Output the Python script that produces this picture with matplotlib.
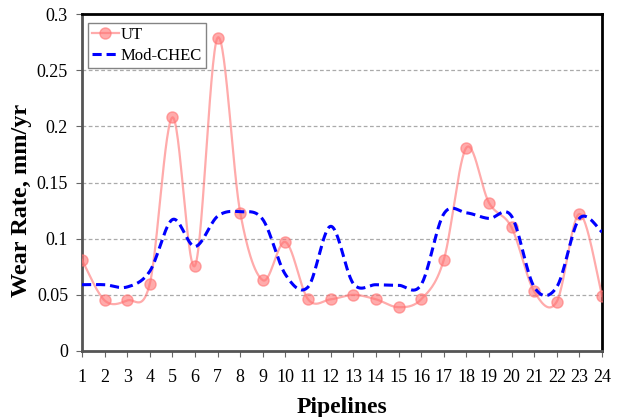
import numpy as np
import matplotlib
matplotlib.use("Agg")
import matplotlib.pyplot as plt

pipelines = list(range(1, 25))
ut = [0.081, 0.045, 0.045, 0.060, 0.208, 0.076, 0.279, 0.123, 0.063, 0.097, 0.046, 0.046,
      0.050, 0.046, 0.039, 0.046, 0.081, 0.181, 0.132, 0.110, 0.053, 0.044, 0.122, 0.049]
mod_chec = [0.059, 0.059, 0.057, 0.071, 0.117, 0.093, 0.120, 0.124, 0.117, 0.068, 0.057, 0.111,
            0.060, 0.059, 0.0585, 0.059, 0.122, 0.123, 0.118, 0.120, 0.057, 0.057, 0.118, 0.106]
yticks = [0, 0.05, 0.1, 0.15, 0.2, 0.25, 0.3]


def smooth(x, y, n=30):
    # Catmull-Rom style bezier, like a spreadsheet "smoothed line"
    x = np.asarray(x, float)
    y = np.asarray(y, float)
    px = np.concatenate([[x[0]], x, [x[-1]]])
    py = np.concatenate([[y[0]], y, [y[-1]]])
    xs, ys = [], []
    t = np.linspace(0, 1, n)
    for i in range(1, len(px) - 2):
        p0 = np.array([px[i], py[i]])
        p3 = np.array([px[i + 1], py[i + 1]])
        c1 = p0 + (np.array([px[i + 1], py[i + 1]]) - np.array([px[i - 1], py[i - 1]])) / 6
        c2 = p3 - (np.array([px[i + 2], py[i + 2]]) - np.array([px[i], py[i]])) / 6
        b = ((1 - t) ** 3)[:, None] * p0 + (3 * (1 - t) ** 2 * t)[:, None] * c1 \
            + (3 * (1 - t) * t ** 2)[:, None] * c2 + (t ** 3)[:, None] * p3
        xs.extend(b[:, 0])
        ys.extend(b[:, 1])
    return np.array(xs), np.array(ys)


plt.rcParams['font.family'] = ['Liberation Serif', 'DejaVu Serif']

fig = plt.figure(figsize=(6.17, 4.17), dpi=100)
ax = fig.add_axes([0.1329, 0.1583, 0.8428, 0.8081])

ux, uy = smooth(pipelines, ut)
cx, cy = smooth(pipelines, mod_chec)
red = (1.0, 0.45, 0.45)
ax.plot(ux, uy, color=red, lw=1.6, alpha=0.6, zorder=3)
ax.plot(pipelines, ut, 'o', color=red, ms=8, alpha=0.6, zorder=4)
ax.plot(cx, cy, color='#0000ff', lw=2.2, ls=(0, (3, 1.6)), zorder=5)

# legend proxies
ax.plot([], [], color=red, lw=1.6, marker='o', ms=8, alpha=0.6, label='UT')
ax.plot([], [], color='#0000ff', lw=2.2, ls=(0, (3, 1.6)), label='Mod-CHEC')
leg = ax.legend(loc='upper left', fontsize=12, frameon=True, fancybox=False,
                borderpad=0.25, handlelength=1.6, handletextpad=0.1, labelspacing=0.3,
                borderaxespad=0, bbox_to_anchor=(0.011, 0.973))
leg.get_frame().set_edgecolor('#666666')
leg.get_frame().set_linewidth(1.0)

ax.set_xlim(1, 24)
ax.set_ylim(0, 0.3)
ax.set_xticks(pipelines)
ax.set_yticks(yticks)
ax.set_yticklabels(['%g' % v for v in yticks])
ax.tick_params(axis='both', labelsize=13, direction='out', length=4, color='#666666')
ax.tick_params(axis='x', pad=9)
ax.tick_params(axis='y', pad=6)

for v in yticks[1:-1]:
    ax.axhline(v, color='#aaaaaa', lw=0.9, ls=(0, (3, 2)), zorder=1)

ax.spines['left'].set_color('#555555')
ax.spines['bottom'].set_color('#555555')
ax.spines['top'].set_color('black')
ax.spines['right'].set_color('black')
for s in ax.spines.values():
    s.set_linewidth(2)

ax.set_xlabel('Pipelines', fontsize=17, fontweight='bold', labelpad=8)
ax.set_ylabel('Wear Rate, mm/yr', fontsize=17.5, fontweight='bold')
ax.yaxis.set_label_coords(-0.097, 0.448)

fig.savefig('out.png', dpi=100)
